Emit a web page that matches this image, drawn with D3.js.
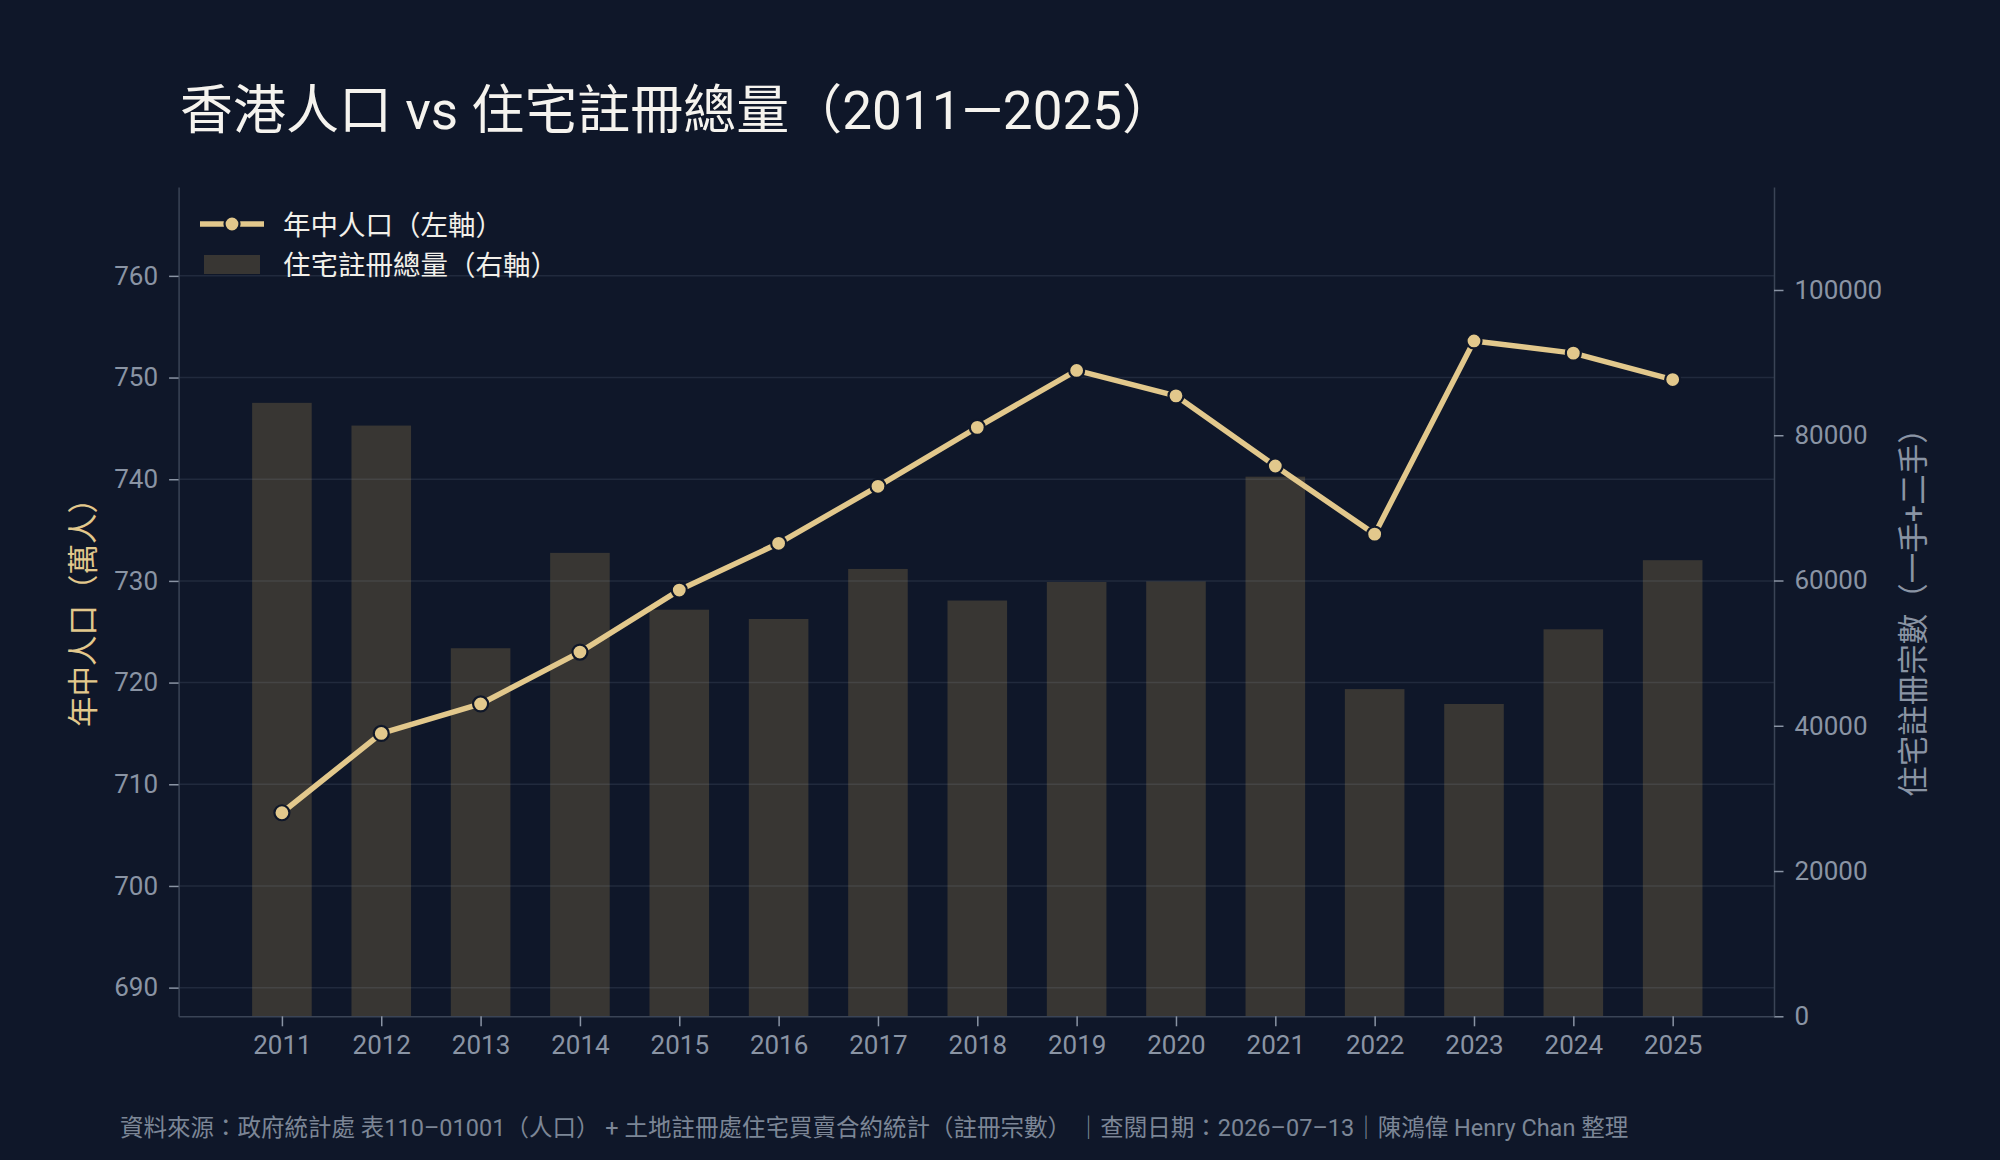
<!DOCTYPE html>
<html>
<head>
<meta charset="utf-8">
<script src="https://cdn.jsdelivr.net/npm/d3@7"></script>
<style>
  html, body { margin: 0; padding: 0; background: #0f1729; }
  svg { display: block; }
</style>
</head>
<body>
<div id="chart"></div>
<script>
// data
const years = [2011, 2012, 2013, 2014, 2015, 2016, 2017, 2018, 2019, 2020, 2021, 2022, 2023, 2024, 2025];
const population = [707.2, 715.0, 717.9, 723.0, 729.1, 733.7, 739.3, 745.1, 750.7, 748.2, 741.3, 734.6, 753.6, 752.4, 749.8];
const registrations = [84462, 81333, 50676, 63807, 55982, 54701, 61591, 57247, 59797, 59880, 74297, 45050, 43002, 53283, 62800];
const leftTicks = [690, 700, 710, 720, 730, 740, 750, 760];
const rightTicks = [0, 20000, 40000, 60000, 80000, 100000];

const W = 2000, H = 1160;
const plot = {left: 178.6, right: 1774, top: 187, bottom: 1016.3};
const font = "Roboto, 'Noto Sans CJK TC', sans-serif";
const gold = "#e2c88c";
const tickColor = "#8a94a4";
const spineColor = "#3a4456";

const svg = d3.select("#chart")
    .append("svg")
    .attr("width", W)
    .attr("height", H)
    .style("font-family", font);

svg.append("rect").attr("width", W).attr("height", H).attr("fill", "#0f1729");

//scales
const x = d3.scaleLinear().domain([2009.96, 2026.02]).range([plot.left, plot.right]);
const yL = d3.scaleLinear().domain([687.18, 768.74]).range([plot.bottom, plot.top]);
const yR = d3.scaleLinear().domain([0, 114180]).range([plot.bottom, plot.top]);

// bars (right axis)
svg.append("g")
   .selectAll("rect")
   .data(years)
   .enter()
   .append("rect")
   .attr("x", d => x(d - 0.3))
   .attr("width", d => x(d + 0.3) - x(d - 0.3))
   .attr("y", (d, i) => yR(registrations[i]))
   .attr("height", (d, i) => plot.bottom - yR(registrations[i]))
   .attr("fill", "#383633");

// grid
svg.append("g")
   .selectAll("line")
   .data(leftTicks)
   .enter()
   .append("line")
   .attr("x1", plot.left)
   .attr("x2", plot.right)
   .attr("y1", d => yL(d))
   .attr("y2", d => yL(d))
   .attr("stroke", "rgba(148,163,184,0.14)")
   .attr("stroke-width", 1.5);

// axes
const styleAxis = g => {
    g.select(".domain").attr("stroke", spineColor).attr("stroke-width", 1.5);
    g.selectAll(".tick line").attr("stroke", tickColor).attr("stroke-width", 1.5);
    g.selectAll(".tick text")
     .attr("fill", tickColor)
     .attr("font-size", "26px")
     .attr("font-family", font);
};

svg.append("g")
    .attr("transform", `translate(${plot.left},0)`)
    .call(d3.axisLeft(yL).tickValues(leftTicks).tickSize(9.5).tickPadding(11).tickSizeOuter(0))
    .call(styleAxis);

svg.append("g")
    .attr("transform", `translate(${plot.right},0)`)
    .call(d3.axisRight(yR).tickValues(rightTicks).tickFormat(d3.format("d")).tickSize(9.5).tickPadding(11).tickSizeOuter(0))
    .call(styleAxis);

svg.append("g")
    .attr("transform", `translate(0,${plot.bottom})`)
    .call(d3.axisBottom(x).tickValues(years).tickFormat(d3.format("d")).tickSize(10).tickPadding(9).tickSizeOuter(0))
    .call(styleAxis);

// axis titles
svg.append("text")
   .attr("transform", "translate(83,605) rotate(-90)")
   .attr("text-anchor", "middle")
   .attr("dominant-baseline", "central")
   .attr("font-size", "30.5px")
   .attr("fill", gold)
   .text("年中人口（萬人）");

svg.append("text")
   .attr("transform", "translate(1913,605) rotate(-90)")
   .attr("text-anchor", "middle")
   .attr("dominant-baseline", "central")
   .attr("font-size", "30.5px")
   .attr("fill", tickColor)
   .text("住宅註冊宗數（一手+二手）");

// population line
const line = d3.line()
    .x((d, i) => x(years[i]))
    .y(d => yL(d));

svg.append("path")
   .datum(population)
   .attr("d", line)
   .attr("fill", "none")
   .attr("stroke", gold)
   .attr("stroke-width", 5.5)
   .attr("stroke-linejoin", "round");

svg.append("g")
   .selectAll("circle")
   .data(population)
   .enter()
   .append("circle")
   .attr("cx", (d, i) => x(years[i]))
   .attr("cy", d => yL(d))
   .attr("r", 7.5)
   .attr("fill", gold)
   .attr("stroke", "#0f1729")
   .attr("stroke-width", 2.2);

// legend
const lg = svg.append("g");
lg.append("line")
  .attr("x1", 200).attr("x2", 264)
  .attr("y1", 224).attr("y2", 224)
  .attr("stroke", gold).attr("stroke-width", 5.5);
lg.append("circle")
  .attr("cx", 232).attr("cy", 224).attr("r", 7.5)
  .attr("fill", gold).attr("stroke", "#0f1729").attr("stroke-width", 2.2);
lg.append("text")
  .attr("x", 283).attr("y", 225.5)
  .attr("dominant-baseline", "central")
  .attr("font-size", "27.5px").attr("fill", "#f2f0ea")
  .text("年中人口（左軸）");
lg.append("rect")
  .attr("x", 204).attr("y", 255).attr("width", 56).attr("height", 19)
  .attr("fill", "#383633");
lg.append("text")
  .attr("x", 283).attr("y", 265.5)
  .attr("dominant-baseline", "central")
  .attr("font-size", "27.5px").attr("fill", "#f2f0ea")
  .text("住宅註冊總量（右軸）");

// title
svg.append("text")
   .attr("x", 180).attr("y", 129)
   .attr("font-size", "53px")
   .attr("fill", "#f5f3ee")
   .style("white-space", "pre")
   .text("香港人口 vs 住宅註冊總量（2011—2025）");

// footer
svg.append("text")
   .attr("x", 120).attr("y", 1128)
   .attr("dominant-baseline", "central")
   .attr("font-size", "23.5px")
   .attr("fill", "#7c8696")
   .style("white-space", "pre")
   .text("資料來源：政府統計處 表110–01001（人口） + 土地註冊處住宅買賣合約統計（註冊宗數） ｜查閱日期：2026–07–13｜陳鴻偉 Henry Chan 整理");
</script>
</body>
</html>
